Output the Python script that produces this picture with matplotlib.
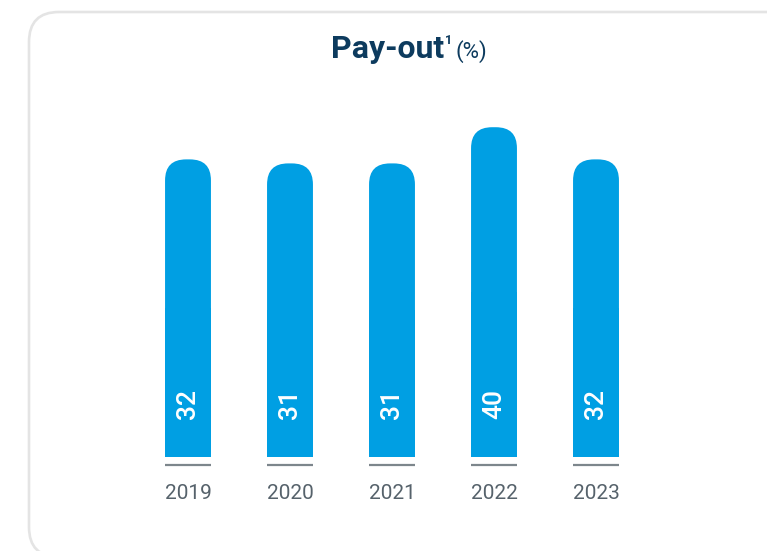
import matplotlib
matplotlib.use("Agg")
import matplotlib.pyplot as plt
from matplotlib import font_manager
from matplotlib.patches import FancyBboxPatch, Rectangle

# data
years = ["2019", "2020", "2021", "2022", "2023"]
payout = [32, 31, 31, 40, 32]

BAR_COLOR = "#009fe3"
TITLE_COLOR = "#0d3b5e"
YEAR_COLOR = "#56626b"
BASE_COLOR = "#7d868c"
CARD_COLOR = "#e4e4e4"


def pick_font(names):
    for n in names:
        try:
            font_manager.findfont(font_manager.FontProperties(family=n), fallback_to_default=False)
            return n
        except ValueError:
            pass
    return "DejaVu Sans"


font = pick_font(["Roboto", "Liberation Sans"])
plt.rcParams["font.family"] = font

W, H = 767, 551
fig = plt.figure(figsize=(W / 100, H / 100), dpi=100)

# rounded card behind everything (in inches so the corners stay round)
card = FancyBboxPatch((0.29, -0.06), 10, 5.45,
                      boxstyle="round,pad=0,rounding_size=0.30",
                      transform=fig.dpi_scale_trans, facecolor="none",
                      edgecolor=CARD_COLOR, linewidth=1.9, zorder=-1)
fig.patches.append(card)

# axes placed in pixels
left, right, bottom_px, top_px = 137, 647, 465, 87
ax = fig.add_axes([left / W, (H - bottom_px) / H, (right - left) / W, (bottom_px - top_px) / H])
ax.set_facecolor("none")
floor = -42
ax.set_xlim(-0.5, len(years) - 0.5)
ax.set_ylim(-44, 50)

for s in ax.spines.values():
    s.set_visible(False)
ax.set_yticks([])
ax.set_xticks(range(len(years)), years)
ax.tick_params(axis="x", length=0, pad=13.5, labelsize=15, labelcolor=YEAR_COLOR)

bar_w = 0.45
bars = ax.bar(range(len(years)), [v - floor for v in payout], bottom=floor,
              width=bar_w, color=BAR_COLOR)

# px per data unit -> aspect for rounded tops
p0 = ax.transData.transform((0, 0))
p1 = ax.transData.transform((1, 1))
px_x = p1[0] - p0[0]
px_y = p1[1] - p0[1]
aspect = px_x / px_y
radius = 21 / px_x

for b in bars:
    x, y = b.get_xy()
    w, h = b.get_width(), b.get_height()
    b.set_visible(False)
    ax.add_patch(FancyBboxPatch((x, y), w, h,
                                boxstyle=f"round,pad=0,rounding_size={radius}",
                                mutation_aspect=aspect, facecolor=BAR_COLOR,
                                edgecolor="none", zorder=2))
    ax.add_patch(Rectangle((x, y), w, h / 2, facecolor=BAR_COLOR,
                           edgecolor="none", zorder=2))

# grey base line under every bar
for i in range(len(years)):
    ax.hlines(-44, i - bar_w / 2, i + bar_w / 2, color=BASE_COLOR,
              linewidth=1.6, clip_on=False, zorder=3)

# values written inside the bars
for i, v in enumerate(payout):
    ax.annotate(str(v), (i, floor), xytext=(0, 27), textcoords="offset points",
                rotation=90, ha="center", va="bottom", color="white",
                fontsize=19, fontweight="medium", zorder=4)

# title
fig.text(444 / W, 1 - 58 / H, "Pay-out", ha="right", va="baseline",
         fontsize=23, fontweight="bold", color=TITLE_COLOR)
fig.text(445 / W, 1 - 34 / H, "1", ha="left", va="top",
         fontsize=9, fontweight="bold", color=TITLE_COLOR)
fig.text(456 / W, 1 - 58 / H, "(%)", ha="left", va="baseline",
         fontsize=16, color=TITLE_COLOR)

fig.savefig("out.png", dpi=100)
